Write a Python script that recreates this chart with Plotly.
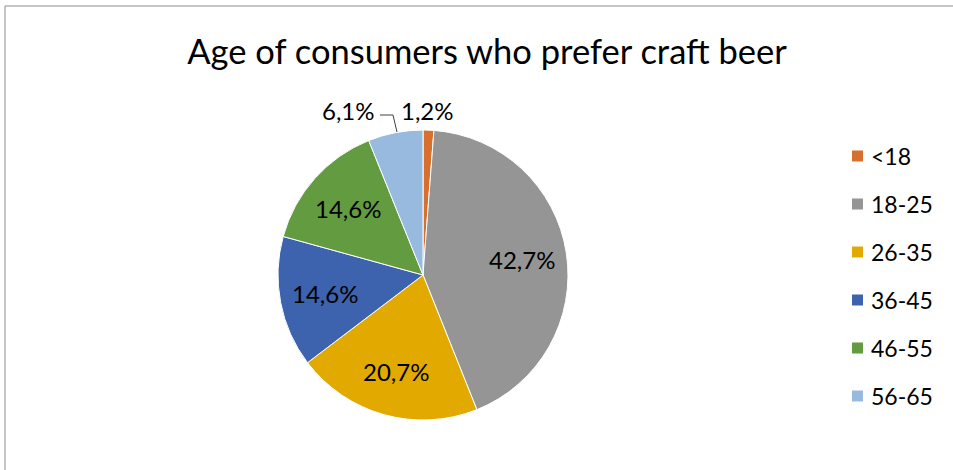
import math
import plotly.graph_objects as go

# Survey shares by age group (percent of respondents)
age_groups = ["<18", "18-25", "26-35", "36-45", "46-55", "56-65"]
shares = [1.2, 42.7, 20.7, 14.6, 14.6, 6.1]
colors = ["#D7702E", "#959595", "#E2AA00", "#3D62AE", "#639B40", "#98BADF"]

W, H = 953, 470
FONT = "Lato"
LABEL_SIZE = 24

# Pie geometry in pixels
CX, CY, R = 423, 275, 145


def px(x):
    return x / W


def py(y):
    return 1 - y / H


def fmt(v):
    return f"{v:.1f}%".replace(".", ",")


fig = go.Figure(
    go.Pie(
        labels=age_groups,
        values=shares,
        sort=False,
        direction="clockwise",
        rotation=0,
        marker=dict(colors=colors, line=dict(color="white", width=1)),
        textinfo="none",
        hoverinfo="label+value",
        showlegend=False,
        domain=dict(x=[px(CX - R), px(CX + R)], y=[py(CY + R), py(CY - R)]),
    )
)

annotations = []
shapes = []

# Chart frame
shapes.append(dict(type="rect", xref="paper", yref="paper",
                   x0=px(5), x1=1.02, y0=-0.02, y1=py(6),
                   line=dict(color="#8C8C8C", width=1)))

# Data labels: inside at mid-angle for wide slices, outside for narrow ones
total = sum(shares)
cum = 0.0
small = {0, 5}
for i, v in enumerate(shares):
    mid = (cum + v / 2) / total * 2 * math.pi
    cum += v
    if i in small:
        continue
    lx = CX + 0.69 * R * math.sin(mid)
    ly = CY - 0.69 * R * math.cos(mid)
    annotations.append(dict(
        x=px(lx), y=py(ly), xref="paper", yref="paper", text=fmt(v),
        showarrow=False, xanchor="center", yanchor="middle",
        font=dict(family=FONT, size=LABEL_SIZE, color="black")))

outside = {5: 348, 0: 427}
for i, xc in outside.items():
    annotations.append(dict(
        x=px(xc), y=py(110), xref="paper", yref="paper",
        text=fmt(shares[i]), showarrow=False,
        xanchor="center", yanchor="middle",
        font=dict(family=FONT, size=LABEL_SIZE, color="black")))

# Leader line for the 56-65 label
shapes.append(dict(type="path", xref="paper", yref="paper",
                   path=f"M {px(380)},{py(115)} L {px(393)},{py(115)} L {px(397)},{py(132)}",
                   line=dict(color="#404040", width=1)))

# Legend: colour swatches with group names
for k, (name, col) in enumerate(zip(age_groups, colors)):
    yc = 156 + 48 * k
    shapes.append(dict(type="rect", xref="paper", yref="paper",
                       x0=px(852), x1=px(863), y0=py(yc + 5.5), y1=py(yc - 5.5),
                       fillcolor=col, line=dict(width=0)))
    annotations.append(dict(
        x=px(869), y=py(yc), xref="paper", yref="paper", text=name,
        showarrow=False, xanchor="left", yanchor="middle",
        font=dict(family=FONT, size=23, color="black")))

fig.update_layout(
    width=W, height=H,
    margin=dict(l=0, r=0, t=0, b=0),
    paper_bgcolor="white",
    plot_bgcolor="white",
    title=dict(text="Age of consumers who prefer craft beer",
               x=px(487), y=py(52), xanchor="center", yanchor="middle",
               font=dict(family=FONT, size=34.5, color="black")),
    shapes=shapes,
    annotations=annotations,
)

fig.write_html("out.html")
